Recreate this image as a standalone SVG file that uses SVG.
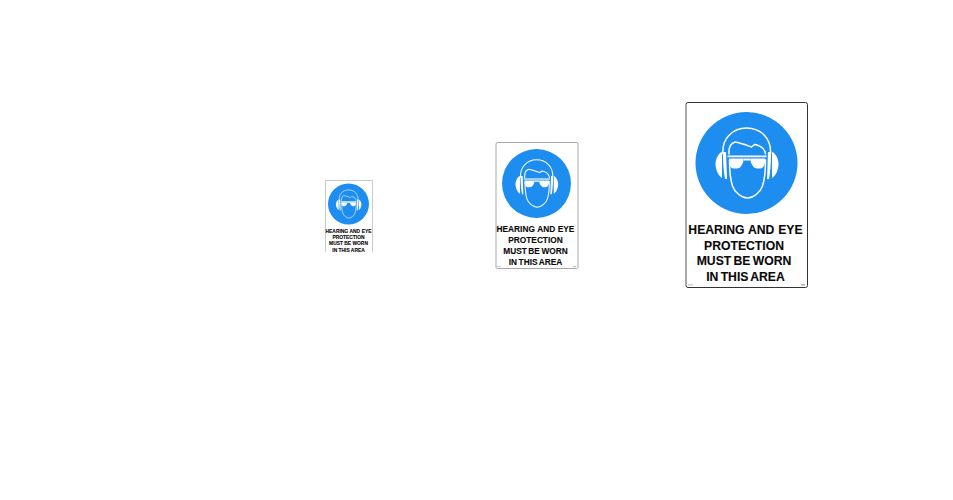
<svg xmlns="http://www.w3.org/2000/svg" width="953" height="500" viewBox="0 0 953 500">
<style>
text{font-family:"Liberation Sans",Arial,sans-serif;font-weight:bold;fill:#0a0a0a;text-anchor:middle;stroke:#0a0a0a;stroke-width:.12}
.a{word-spacing:.04em}
.n{word-spacing:-.09em}
.l{stroke:#fff;fill:none;stroke-linecap:round;stroke-linejoin:round;stroke-width:1.500}
.w{fill:#fff}
.b{fill:#1e8df0}
</style>
<defs>
<g id="icon">
<circle class="b" r="51"/>
<path class="l" d="M-23.500-9C-25-25-13-35 0-35C14-35 25-25 24-9"/>
<path class="w" d="M-24.500-11C-28-10-31-4-31 1C-31 7-28 13-24.500 15Z"/>
<path class="w" d="M-23.300-11H-20.500L-19.500 16H-21.500C-23 8-23.800-4-23.300-11Z"/>
<path class="w" d="M25.500-11C29-10 32-4 32 1C32 7 29 13 25.500 15Z"/>
<path class="w" d="M24.300-11H21.500L20.500 16H22.500C24 8 24.800-4 24.300-11Z"/>
<path class="l" d="M-17.500-9C-18-16-15-20-11.500-21C-5-20 2-17 5-16L8-18.500C11-18 14-17 16-15C18-13 19-11 19-9"/>
<path class="l" d="M-17-3C-17 8-16 17-14 23C-12 29-5 35 1 35C7 35 14 29 16 23C18 17 19 8 19-3"/>
<path class="w" d="M-19-7.500H20V-5.800H-19Z"/>
<path class="w" d="M-17.500-4.500H-3C-3-1-3.500 0-4.500 1.500C-6 4.500-7.500 5.500-10 5.500H-13C-15.500 5.500-17.500 2-17.500-1ZM18.500-4.500H4C4-1 4.500 0 5.500 1.500C7 4.500 8.500 5.500 11 5.500H14C16.500 5.500 18.500 2 18.500-1Z"/>
<path class="w" d="M-3-4.500H4V-2.500H-3Z"/>
</g>
</defs>
<rect width="953" height="500" fill="#fff"/>
<g id="sign-small">
<path d="M325.500 252V180.500H372.500V252" fill="#fff" stroke="#c9c9c9"/>
<use href="#icon" transform="translate(348.500 204) scale(.402)"/>
<g font-size="4.900"><text class="a" x="348.500" y="232.500">HEARING AND EYE</text><text x="348.500" y="239">PROTECTION</text><text x="348.500" y="245.300">MUST BE WORN</text><text x="348.500" y="251.500">IN THIS AREA</text></g>
</g>
<g id="sign-medium">
<rect x="496" y="142.500" width="82" height="126" rx="1.500" fill="#fff" stroke="#a8a8a8"/>
<use href="#icon" transform="translate(536.500 183.500) scale(.676)"/>
<g font-size="8.300"><text class="a" x="535.500" y="232">HEARING AND EYE</text><text x="535.500" y="243">PROTECTION</text><text class="n" x="535.500" y="253.500">MUST BE WORN</text><text class="n" x="535.500" y="264.500">IN THIS AREA</text></g>
<rect x="497" y="266.500" width="4" height=".6" fill="#aaa"/><rect x="573" y="266.500" width="3" height=".6" fill="#777"/>
</g>
<g id="sign-large">
<rect x="686" y="102.500" width="121.500" height="185" rx="2" fill="#fff" stroke="#333"/>
<path d="M686 105V285" stroke="#bbb" stroke-width="1"/>
<use href="#icon" transform="translate(746.500 163)"/>
<g font-size="12.200"><text class="a" x="745.500" y="233.500">HEARING AND EYE</text><text x="744" y="249.500">PROTECTION</text><text class="n" x="744" y="265">MUST BE WORN</text><text class="n" x="745.500" y="281">IN THIS AREA</text></g>
<rect x="688" y="284.500" width="5" height=".8" fill="#aaa"/><rect x="801" y="284.500" width="4" height=".8" fill="#666"/>
</g>
</svg>
